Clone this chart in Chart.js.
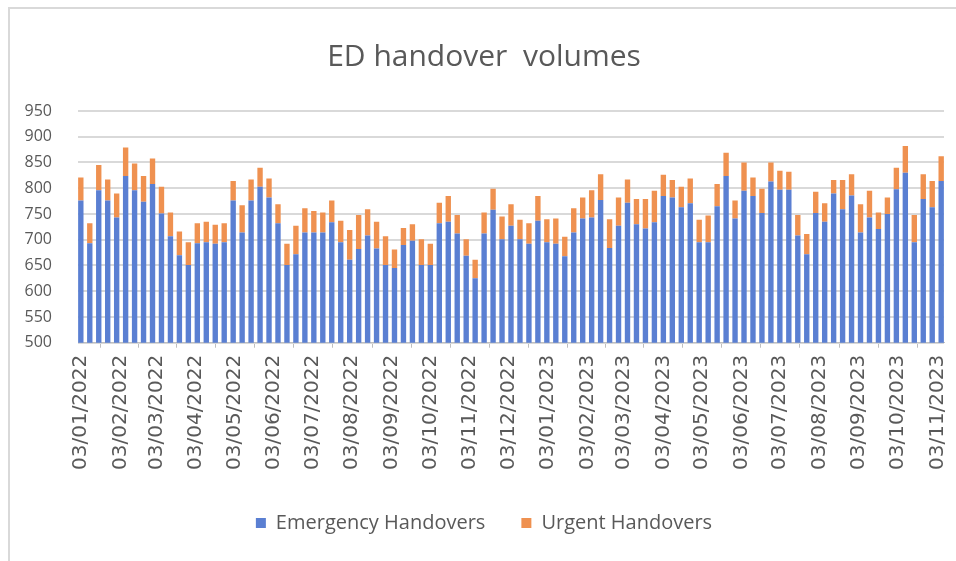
<!DOCTYPE html>
<html>
<head>
<meta charset="utf-8">
<title>ED handover volumes</title>
<script src="https://cdn.jsdelivr.net/npm/chart.js@4.4.1/dist/chart.umd.min.js"></script>
<style>
  body { margin: 0; background: #fff; }
  #wrap { position: relative; width: 956px; height: 561px; }
  #frame { position: absolute; left: 8px; top: 7px; right: 0; bottom: 0;
           border-top: 2px solid #d9d9d9; border-left: 2px solid #d9d9d9; }
  canvas { position: absolute; left: 0; top: 0; }
</style>
</head>
<body>
<div id="wrap">
  <div id="frame"></div>
  <canvas id="grafico" width="956" height="561"></canvas>
</div>
<script>
// week commencing dates (one bar per week)
const weeks = [
  "2022-01-03","2022-01-10","2022-01-17","2022-01-24","2022-01-31",
  "2022-02-07","2022-02-14","2022-02-21","2022-02-28",
  "2022-03-07","2022-03-14","2022-03-21","2022-03-28",
  "2022-04-04","2022-04-11","2022-04-18","2022-04-25",
  "2022-05-02","2022-05-09","2022-05-16","2022-05-23","2022-05-30",
  "2022-06-06","2022-06-13","2022-06-20","2022-06-27",
  "2022-07-04","2022-07-11","2022-07-18","2022-07-25",
  "2022-08-01","2022-08-08","2022-08-15","2022-08-22","2022-08-29",
  "2022-09-05","2022-09-12","2022-09-19","2022-09-26",
  "2022-10-03","2022-10-10","2022-10-17","2022-10-24","2022-10-31",
  "2022-11-07","2022-11-14","2022-11-21","2022-11-28",
  "2022-12-05","2022-12-12","2022-12-19","2022-12-26",
  "2023-01-02","2023-01-09","2023-01-16","2023-01-23","2023-01-30",
  "2023-02-06","2023-02-13","2023-02-20","2023-02-27",
  "2023-03-06","2023-03-13","2023-03-20","2023-03-27",
  "2023-04-03","2023-04-10","2023-04-17","2023-04-24",
  "2023-05-01","2023-05-08","2023-05-15","2023-05-22","2023-05-29",
  "2023-06-05","2023-06-12","2023-06-19","2023-06-26",
  "2023-07-03","2023-07-10","2023-07-17","2023-07-24","2023-07-31",
  "2023-08-07","2023-08-14","2023-08-21","2023-08-28",
  "2023-09-04","2023-09-11","2023-09-18","2023-09-25",
  "2023-10-02","2023-10-09","2023-10-16","2023-10-23","2023-10-30",
  "2023-11-06"
];

const emergency = [
  776, 693, 796, 776, 743, 824, 796, 774, 808, 751,
  707, 670, 651, 693, 695, 692, 695, 776, 714, 776,
  803, 782, 732, 651, 672, 714, 714, 714, 734, 695,
  661, 682, 708, 683, 651, 645, 690, 698, 651, 651,
  732, 735, 712, 669, 625, 712, 758, 701, 727, 701,
  692, 737, 695, 692, 668, 714, 741, 743, 777, 684,
  727, 772, 730, 722, 734, 785, 782, 763, 771, 695,
  695, 765, 824, 741, 795, 785, 752, 813, 797, 797,
  708, 672, 752, 735, 790, 759, 786, 714, 743, 721,
  750, 798, 830, 695, 779, 763, 814
];

const urgent = [
  45, 39, 49, 41, 47, 55, 52, 50, 50, 52,
  46, 46, 44, 39, 40, 37, 37, 38, 53, 41,
  37, 37, 37, 41, 55, 47, 42, 39, 42, 42,
  58, 66, 51, 52, 56, 36, 33, 32, 50, 41,
  40, 50, 36, 32, 36, 41, 41, 44, 42, 38,
  40, 48, 45, 49, 38, 47, 41, 53, 50, 56,
  55, 45, 49, 57, 61, 41, 34, 40, 48, 44,
  52, 43, 45, 35, 55, 36, 47, 37, 37, 35,
  40, 39, 41, 36, 26, 57, 41, 55, 52, 32,
  32, 42, 52, 53, 48, 51, 48
];

// month tick labels on the date axis
const tickLabels = [
  "03/01/2022","03/02/2022","03/03/2022","03/04/2022","03/05/2022","03/06/2022",
  "03/07/2022","03/08/2022","03/09/2022","03/10/2022","03/11/2022","03/12/2022",
  "03/01/2023","03/02/2023","03/03/2023","03/04/2023","03/05/2023","03/06/2023",
  "03/07/2023","03/08/2023","03/09/2023","03/10/2023","03/11/2023"
];

const yTicks = [500, 550, 600, 650, 700, 750, 800, 850, 900, 950];

// days since the first week, so the x axis behaves like a date axis
const start = Date.UTC(2022, 0, 3);
function dias(iso) {
  const [y, m, d] = iso.split("-").map(Number);
  return Math.round((Date.UTC(y, m - 1, d) - start) / 86400000);
}
function diasLabel(lbl) {
  const [d, m, y] = lbl.split("/").map(Number);
  return Math.round((Date.UTC(y, m - 1, d) - start) / 86400000);
}

const xs = weeks.map(dias);
const tickPos = tickLabels.map(diasLabel);

const ctx = document.getElementById("grafico").getContext("2d");
new Chart(ctx, {
  type: "bar",
  data: {
    datasets: [
      {
        label: "Emergency Handovers",
        data: xs.map((x, i) => ({ x: x, y: emergency[i] })),
        backgroundColor: "#5a7fd2",
        borderColor: "#4469c0",
        borderWidth: 0,
        barPercentage: 0.6,
        categoryPercentage: 1.0
      },
      {
        label: "Urgent Handovers",
        data: xs.map((x, i) => ({ x: x, y: urgent[i] })),
        backgroundColor: "#ef9150",
        borderColor: "#e5782f",
        borderWidth: 0,
        barPercentage: 0.6,
        categoryPercentage: 1.0
      }
    ]
  },
  options: {
    responsive: false,
    animation: false,
    layout: { padding: { left: 24, right: 12, top: 0, bottom: 18 } },
    plugins: {
      title: {
        display: true,
        text: "ED handover  volumes",
        color: "#595959",
        font: { family: "Open Sans", size: 30, weight: "normal" },
        padding: { top: 39, bottom: 36 }
      },
      legend: {
        position: "bottom",
        labels: {
          color: "#595959",
          font: { family: "Open Sans", size: 20 },
          boxWidth: 10,
          boxHeight: 10,
          padding: 36
        }
      },
      tooltip: { enabled: false }
    },
    scales: {
      x: {
        type: "linear",
        stacked: true,
        offset: false,
        min: -2.2,
        max: 674.2,
        afterBuildTicks: (scale) => {
          scale.ticks = tickPos.map(v => ({ value: v }));
        },
        afterFit: (scale) => {
          // rotated labels sit on the ticks, no extra side padding needed
          scale.paddingLeft = 0;
          scale.paddingRight = 0;
        },
        ticks: {
          autoSkip: false,
          minRotation: 90,
          maxRotation: 90,
          color: "#595959",
          font: { family: "DejaVu Sans", size: 20 },
          padding: 7,
          callback: (value, index) => tickLabels[index]
        },
        grid: { drawOnChartArea: false, drawTicks: true, tickLength: 5, color: "#bfbfbf" },
        border: { color: "#bfbfbf" }
      },
      y: {
        stacked: true,
        min: 500,
        max: 950,
        afterBuildTicks: (scale) => {
          scale.ticks = yTicks.map(v => ({ value: v }));
        },
        afterFit: (scale) => {
          // label column (~28px) plus the gap to the plot
          scale.width = 54;
        },
        ticks: {
          color: "#595959",
          font: { family: "Open Sans", size: 16 },
          padding: 26
        },
        grid: { color: "#d9d9d9", lineWidth: 2, drawTicks: false },
        border: { display: false }
      }
    }
  }
});
</script>
</body>
</html>
